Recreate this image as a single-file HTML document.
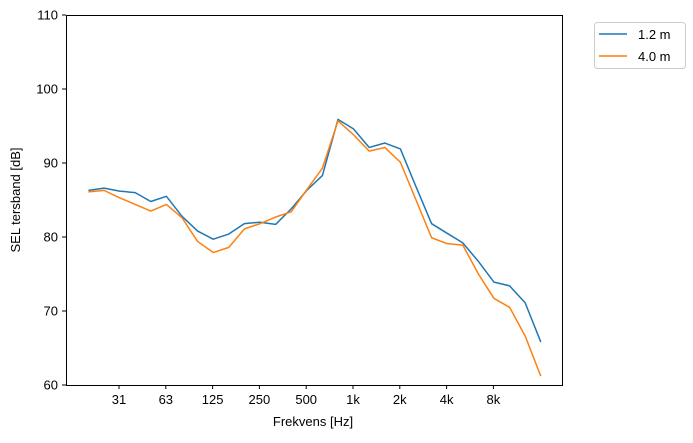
<!DOCTYPE html>
<html><head><meta charset="utf-8"><style>
body{margin:0;background:#fff;}
svg text{font-family:"Liberation Sans",sans-serif;font-size:13px;fill:#000;}
</style></head><body>
<svg id="s" width="693" height="438" xmlns="http://www.w3.org/2000/svg">
<rect x="0" y="0" width="693" height="438" fill="#fff"/>
<g id="g"></g>
<rect x="66.5" y="15.5" width="496" height="370" fill="none" stroke="#000" stroke-width="1"/>
<text x="313" y="426" text-anchor="middle">Frekvens [Hz]</text>
<text transform="translate(20,200) rotate(-90)" text-anchor="middle">SEL tersband [dB]</text>
<rect x="594.5" y="22.5" width="91" height="46" rx="3" fill="#fff" stroke="#ccc"/>
<line x1="599" y1="34" x2="627" y2="34" stroke="#1f77b4" stroke-width="1.5"/>
<line x1="599" y1="56" x2="627" y2="56" stroke="#ff7f0e" stroke-width="1.5"/>
<text x="638" y="39">1.2 m</text>
<text x="638" y="61">4.0 m</text>
</svg>
<script>
var g=document.getElementById('g'),ns='http://www.w3.org/2000/svg',h='';
function Y(v){return 385-(v-60)*7.4;}
[60,70,80,90,100,110].forEach(function(v){var y=Y(v);h+='<line x1="62" x2="66" y1="'+y+'" y2="'+y+'" stroke="#000"/><text x="58" y="'+(y+4.5)+'" text-anchor="end">'+v+'</text>';});
var xl=['31','63','125','250','500','1k','2k','4k','8k'];
xl.forEach(function(t,i){var x=119+i*46.8;h+='<line x1="'+x+'" x2="'+x+'" y1="385" y2="389" stroke="#000"/><text x="'+x+'" y="404" text-anchor="middle">'+t+'</text>';});
var b=[86.3,86.6,86.2,86.0,84.8,85.5,82.8,80.8,79.7,80.4,81.8,82.0,81.7,83.8,86.3,88.3,95.9,94.6,92.1,92.7,91.9,86.8,81.8,80.5,79.2,76.7,73.9,73.4,71.1,65.8];
var o=[86.1,86.3,85.3,84.4,83.5,84.4,82.6,79.4,77.9,78.6,81.1,81.8,82.7,83.4,86.4,89.3,95.7,93.8,91.6,92.1,90.1,85.0,79.9,79.1,78.9,75.0,71.7,70.5,66.6,61.2];
function P(a,c){return '<polyline fill="none" stroke="'+c+'" stroke-width="1.5" stroke-linejoin="round" points="'+a.map(function(v,i){return (88.4+i*15.6)+','+Y(v);}).join(' ')+'"/>';}
h+=P(b,'#1f77b4')+P(o,'#ff7f0e');
g.innerHTML=h;
</script>
</body></html>
